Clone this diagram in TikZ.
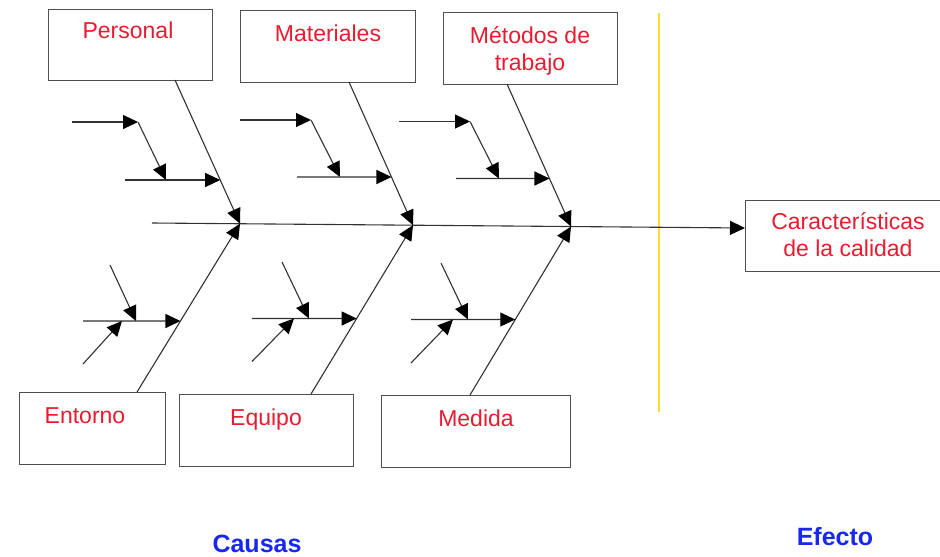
\documentclass[tikz,border=0pt]{standalone}
\usepackage{fontspec}
\setmainfont{Liberation Sans}
\usetikzlibrary{arrows.meta,calc}
\definecolor{labred}{RGB}{232,28,48}
\definecolor{labblue}{RGB}{24,40,238}
\definecolor{linegray}{RGB}{50,50,50}
\definecolor{boxgray}{RGB}{80,80,80}
\definecolor{axisyellow}{RGB}{248,222,40}
\tikzset{
  boxnode/.style={draw=boxgray, line width=1pt, rectangle, inner sep=0pt, outer sep=0pt},
  lbl/.style={text=labred, font=\fontsize{23}{27}\selectfont, anchor=base, inner sep=0pt},
  headlbl/.style={text=labblue, font=\fontsize{25}{30}\selectfont\bfseries, anchor=base, inner sep=0pt},
  bone/.style={draw=linegray, line width=1.1pt, -{Triangle[length=15pt,width=14pt,color=black,fill=black]}},
}
\begin{document}
\begin{tikzpicture}[x=1pt,y=-1pt]
\useasboundingbox (0,0) rectangle (940,557);
\clip (0,0) rectangle (940,557);
\fill[white] (0,0) rectangle (940,557);

% boxes
\node[boxnode, minimum width=164, minimum height=71] (pers) at (130,44.5) {};
\node[boxnode, minimum width=175, minimum height=72] (mat) at (327.5,46) {};
\node[boxnode, minimum width=174, minimum height=72] (met) at (530,48) {};
\node[boxnode, minimum width=146, minimum height=72] (ent) at (92,428) {};
\node[boxnode, minimum width=174, minimum height=72] (equ) at (266,430) {};
\node[boxnode, minimum width=189, minimum height=72] (med) at (475.5,431) {};
\node[boxnode, minimum width=200, minimum height=71] (car) at (845,235.5) {};

% labels
\node[lbl] (persT) at (128,38) {Personal};
\node[lbl] (matT) at (328,41) {Materiales};
\node[lbl] (metT1) at (530,43) {Métodos de};
\node[lbl] (metT2) at (530,70) {trabajo};
\node[lbl] (entT) at (85,423) {Entorno};
\node[lbl] (equT) at (266,425) {Equipo};
\node[lbl] (medT) at (476,426) {Medida};
\node[lbl] (carT1) at (848,229) {Características};
\node[lbl] (carT2) at (848,256) {de la calidad};
\node[headlbl] (causas) at (257,552) {Causas};
\node[headlbl] (efecto) at (835,545) {Efecto};

% yellow divider
\coordinate (yTop) at (659,13);
\coordinate (yBot) at (659,412);
\draw[draw=axisyellow, line width=1.3pt] (yTop) -- (yBot);

% spine
\coordinate (spS) at (152,223);
\coordinate (carIn) at ($(car.west)+(0,-7.5)$);
\coordinate (j1) at (240,223.7);
\coordinate (j2) at (413,225.2);
\coordinate (j3) at (571,226.5);
\draw[bone] (spS) -- (carIn);

% main bones
\coordinate (pB) at (175,80);
\coordinate (mB) at (349,82);
\coordinate (tB) at (507,84);
\coordinate (eB) at (137,392);
\coordinate (qB) at (311,394);
\coordinate (dB) at (470,395);
\draw[bone] (pB) -- (j1);
\draw[bone] (mB) -- (j2);
\draw[bone] (tB) -- (j3);
\draw[bone] (eB) -- (j1);
\draw[bone] (qB) -- (j2);
\draw[bone] (dB) -- (j3);

% Personal sub-branches
\coordinate (p1s) at (72,122);
\coordinate (p1e) at (138,122);
\coordinate (p2s) at (125,180);
\coordinate (p2r) at (300,180);
\coordinate (p2e) at (intersection of p2s--p2r and pB--j1);
\coordinate (p3e) at (166,180);
\draw[bone] (p1s) -- (p1e);
\draw[bone] (p1e) -- (p3e);
\draw[bone] (p2s) -- (p2e);

% Materiales sub-branches
\coordinate (m1s) at (240,120);
\coordinate (m1e) at (311,120);
\coordinate (m2s) at (297,177);
\coordinate (m2r) at (480,177);
\coordinate (m2e) at (intersection of m2s--m2r and mB--j2);
\coordinate (m3e) at (340,177);
\draw[bone] (m1s) -- (m1e);
\draw[bone] (m1e) -- (m3e);
\draw[bone] (m2s) -- (m2e);

% Metodos sub-branches
\coordinate (t1s) at (399,121.5);
\coordinate (t1e) at (470,121.5);
\coordinate (t2s) at (456,178.5);
\coordinate (t2r) at (640,178.5);
\coordinate (t2e) at (intersection of t2s--t2r and tB--j3);
\coordinate (t3e) at (499,178.5);
\draw[bone] (t1s) -- (t1e);
\draw[bone] (t1e) -- (t3e);
\draw[bone] (t2s) -- (t2e);

% Entorno sub-branches
\coordinate (e1s) at (83,321);
\coordinate (e1r) at (260,321);
\coordinate (e1e) at (intersection of e1s--e1r and eB--j1);
\coordinate (e2s) at (110,265);
\coordinate (e2e) at (136,321);
\coordinate (e3s) at (83,364);
\coordinate (e3e) at (122,321);
\draw[bone] (e1s) -- (e1e);
\draw[bone] (e2s) -- (e2e);
\draw[bone] (e3s) -- (e3e);

% Equipo sub-branches
\coordinate (q1s) at (252,318.5);
\coordinate (q1r) at (430,318.5);
\coordinate (q1e) at (intersection of q1s--q1r and qB--j2);
\coordinate (q2s) at (282,262);
\coordinate (q2e) at (309,318.5);
\coordinate (q3s) at (252,361.5);
\coordinate (q3e) at (294,318.5);
\draw[bone] (q1s) -- (q1e);
\draw[bone] (q2s) -- (q2e);
\draw[bone] (q3s) -- (q3e);

% Medida sub-branches
\coordinate (d1s) at (411,319.5);
\coordinate (d1r) at (600,319.5);
\coordinate (d1e) at (intersection of d1s--d1r and dB--j3);
\coordinate (d2s) at (441,263);
\coordinate (d2e) at (468,319.5);
\coordinate (d3s) at (411,363);
\coordinate (d3e) at (453,319.5);
\draw[bone] (d1s) -- (d1e);
\draw[bone] (d2s) -- (d2e);
\draw[bone] (d3s) -- (d3e);
\end{tikzpicture}
\end{document}
